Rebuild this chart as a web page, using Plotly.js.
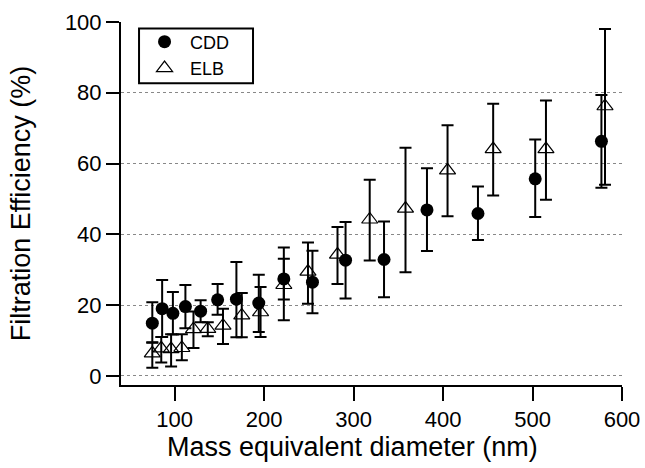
<!DOCTYPE html>
<html>
<head>
<meta charset="utf-8">
<script src="https://cdn.plot.ly/plotly-3.0.1.min.js"></script>
<style>
  html, body { margin: 0; padding: 0; background: #fff; }
  #chart { width: 645px; height: 468px; }
</style>
</head>
<body>
<div id="chart"></div>
<script>
// CDD series
var cddX = [75, 86, 98, 112, 129, 148, 169, 194, 222, 254, 291, 334, 382, 439, 503, 577];
var cddY = [14.9, 19.0, 17.7, 19.6, 18.3, 21.5, 21.7, 20.6, 27.4, 26.5, 32.7, 32.9, 46.9, 45.9, 55.7, 66.3];
var cddErrPlus  = [5.9, 8.1, 6.0, 6.1, 3.1, 4.5, 10.5, 8.0, 8.9, 8.9, 10.8, 10.7, 11.8, 7.6, 11.1, 13.1];
var cddErrMinus = [5.5, 8.0, 6.0, 6.1, 3.1, 4.2, 10.8, 8.2, 11.7, 8.8, 10.8, 10.7, 11.6, 7.5, 10.8, 13.1];

// ELB series
var elbX = [75, 85, 96, 108, 121, 137, 154, 175, 196, 222, 249, 282, 318, 358, 405, 456, 515, 581];
var elbY = [6.4, 7.8, 7.6, 7.9, 13.2, 13.3, 14.2, 17.1, 18.0, 25.7, 29.5, 34.3, 44.2, 47.3, 58.1, 64.1, 64.1, 76.2];
var elbErrPlus  = [3.1, 3.2, 4.2, 3.9, 5.0, 1.9, 4.8, 6.3, 7.1, 7.4, 8.2, 7.8, 11.2, 17.2, 12.7, 12.8, 13.7, 21.8];
var elbErrMinus = [4.1, 4.0, 4.9, 3.5, 5.3, 2.1, 5.2, 6.2, 7.0, 4.1, 9.1, 8.3, 11.6, 18.0, 13.0, 13.1, 14.3, 22.2];

// axis ticks and titles
var xTicks = [100, 200, 300, 400, 500, 600];
var yTicks = [0, 20, 40, 60, 80, 100];
var xTitle = 'Mass equivalent diameter (nm)';
var yTitle = 'Filtration Efficiency (%)';

var FONT = '"Liberation Sans", Arial, Helvetica, sans-serif';
var PAD = '\u00a0\u00a0\u00a0\u00a0';

var traces = [
  {
    x: cddX, y: cddY, name: 'CDD' + PAD, type: 'scatter', mode: 'markers',
    marker: { symbol: 'circle', size: 13, color: '#000' },
    error_y: { type: 'data', array: cddErrPlus, arrayminus: cddErrMinus, symmetric: false,
               color: '#000', thickness: 2, width: 6 }
  },
  {
    x: elbX, y: elbY, name: 'ELB' + PAD, type: 'scatter', mode: 'markers',
    marker: { symbol: 'triangle-up-open', size: 14, color: '#000', line: { width: 1.2, color: '#000' } },
    error_y: { type: 'data', array: elbErrPlus, arrayminus: elbErrMinus, symmetric: false,
               color: '#000', thickness: 2, width: 6 }
  }
];

var layout = {
  width: 645, height: 468,
  margin: { l: 121, r: 23, t: 21.5, b: 82.6, pad: 0 },
  paper_bgcolor: '#fff', plot_bgcolor: '#fff',
  font: { family: FONT, color: '#000', size: 21 },
  showlegend: true,
  legend: {
    x: 0.036, y: 0.996, xanchor: 'left', yanchor: 'top',
    borderwidth: 0, bgcolor: 'rgba(0,0,0,0)',
    font: { family: FONT, size: 18, color: '#000' },
    itemwidth: 41,
    tracegroupgap: 0
  },
  shapes: [
    { type: 'rect', xref: 'paper', yref: 'paper', x0: 0.036, x1: 0.2635, y0: 0.831, y1: 0.982,
      line: { color: '#000', width: 2 }, fillcolor: 'rgba(0,0,0,0)' }
  ],
  annotations: [
    { text: xTitle, xref: 'paper', yref: 'paper', x: 0.463, y: -0.172, xanchor: 'center', yanchor: 'middle',
      showarrow: false, font: { family: FONT, size: 27, color: '#000' } }
  ],
  xaxis: {
    range: [40, 600],
    tickmode: 'array', tickvals: xTicks, ticktext: xTicks.map(String),
    showgrid: false, zeroline: false,
    showline: true, linecolor: '#000', linewidth: 2,
    ticks: 'outside', ticklen: 14, tickwidth: 2, tickcolor: '#000',
    tickfont: { family: FONT, size: 22, color: '#000' }
  },
  yaxis: {
    range: [-2.56, 100],
    tickmode: 'array', tickvals: yTicks, ticktext: yTicks.map(String),
    showgrid: true, gridcolor: '#888', griddash: 'dot', gridwidth: 1,
    zeroline: false,
    showline: true, linecolor: '#000', linewidth: 2,
    ticks: 'outside', ticklen: 13, tickwidth: 2, tickcolor: '#000',
    tickfont: { family: FONT, size: 22, color: '#000' },
    title: { text: yTitle, font: { family: FONT, size: 27, color: '#000' }, standoff: 26 }
  }
};

Plotly.newPlot('chart', traces, layout, { displayModeBar: false, staticPlot: true });
</script>
</body>
</html>
